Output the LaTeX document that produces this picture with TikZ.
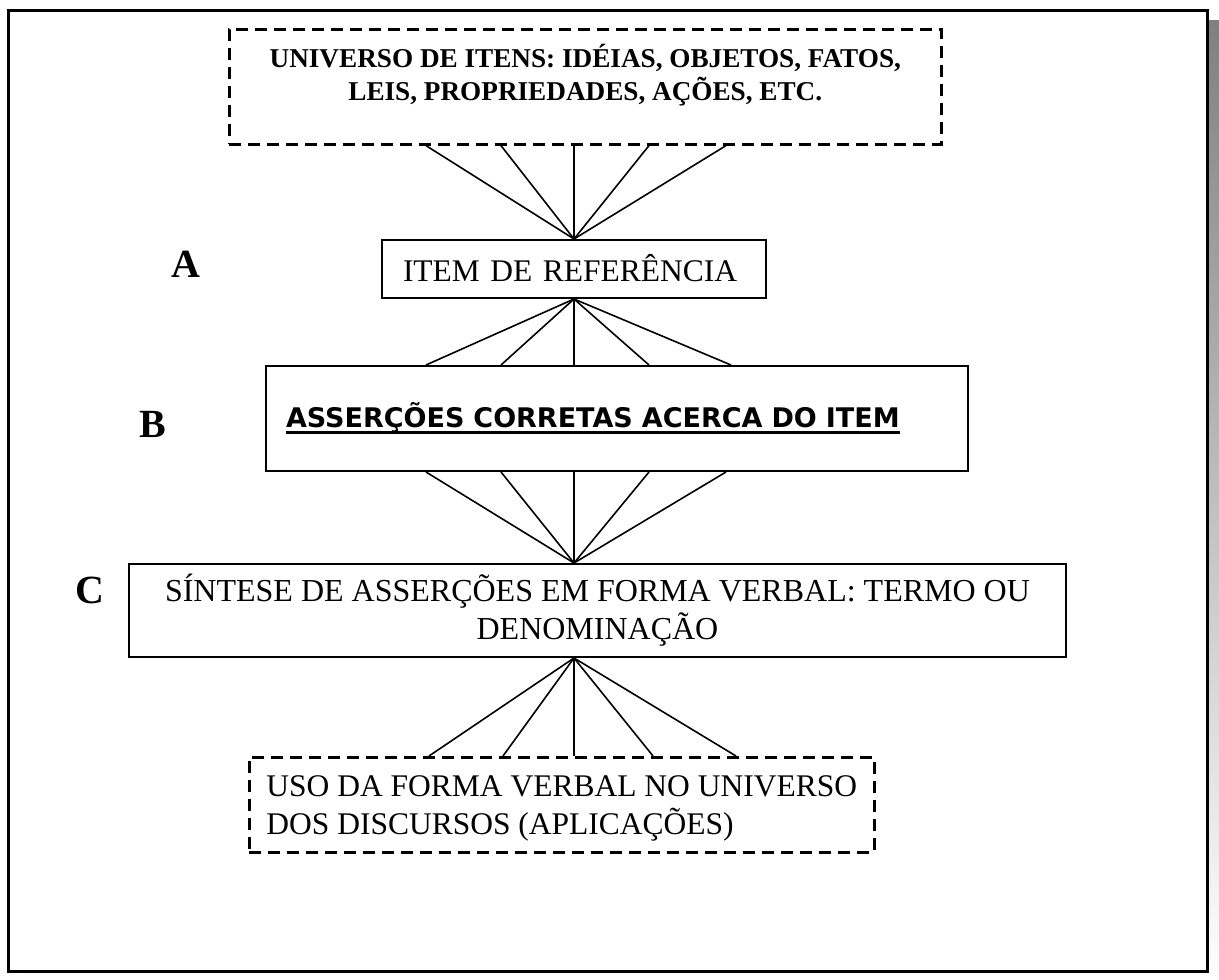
\documentclass[tikz,border=0pt]{standalone}
\usepackage{fontspec}
\setmainfont{Liberation Serif}
\newfontfamily\verdana{DejaVu Sans}
\usetikzlibrary{calc}
\definecolor{shade}{RGB}{128,128,128}
\newcommand{\ulbar}[1]{\setbox0\hbox{#1}\rlap{\rule[-7pt]{\wd0}{2.6pt}}\box0}

\begin{document}
\begin{tikzpicture}[x=1pt, y=-1pt,
  box/.style={draw, line width=2pt, inner sep=0pt, anchor=north west},
  dashbox/.style={box, dash pattern=on 12pt off 7pt, line width=2.6pt},
  fan/.style={line width=1.6pt},
  letter/.style={font=\fontsize{40}{40}\selectfont\bfseries, anchor=base}]
\useasboundingbox (0,0) rectangle (1219,980);
\fill[shade] (20,20) rectangle (1219,980);
\draw[line width=3pt, fill=white] (8,10) rectangle (1207,971);
\node[dashbox, minimum width=712, minimum height=115, text depth=29,
  align=center, font=\fontsize{27.2}{33}\selectfont\bfseries] (universo) at (228,28)
  {UNIVERSO DE ITENS: IDÉIAS, OBJETOS, FATOS,\\ LEIS, PROPRIEDADES, AÇÕES, ETC.};
\node[box, minimum width=384, minimum height=58, text width=342, inner xsep=21,
  align=left, text height=30, text depth=6,
  font=\fontsize{31.5}{38}\selectfont] (item) at (381,239) {ITEM DE REFERÊNCIA};
\node[box, minimum width=702, minimum height=105, text width=662, inner xsep=20,
  align=left, text height=27, text depth=10,
  font=\verdana\bfseries\fontsize{27}{30}\selectfont] (assercoes) at (265,365)
  {\ulbar{ASSERÇÕES CORRETAS ACERCA DO ITEM}};
\node[box, minimum width=937, minimum height=93, align=center,
  font=\fontsize{32}{38}\selectfont] (sintese) at (128,563)
  {SÍNTESE DE ASSERÇÕES EM FORMA VERBAL: TERMO OU\\ DENOMINAÇÃO};
\node[dashbox, minimum width=625, minimum height=95, align=left, text depth=0,
  font=\fontsize{31.5}{38}\selectfont] (uso) at (248,756)
  {USO DA FORMA VERBAL NO UNIVERSO\\ DOS DISCURSOS (APLICAÇÕES)};
\node[letter] (la) at (186,277) {A};
\node[letter] (lb) at (153,437) {B};
\node[letter] (lc) at (90,603) {C};
\foreach \dx in {-148,-73,0,75,152}
  \draw[fan] (item.north) -- ($(item.north |- universo.south)+(\dx,0)$);
\foreach \dx in {-148,-73,0,75,157}
  \draw[fan] (item.south) -- ($(item.south |- assercoes.north)+(\dx,0)$);
\foreach \dx in {-148,-73,0,75,152}
  \draw[fan] (item.south |- sintese.north) -- ($(item.south |- assercoes.south)+(\dx,0)$);
\foreach \dx in {-145,-71,0,79,162}
  \draw[fan] (item.south |- sintese.south) -- ($(item.south |- uso.north)+(\dx,0)$);
\end{tikzpicture}
\end{document}
